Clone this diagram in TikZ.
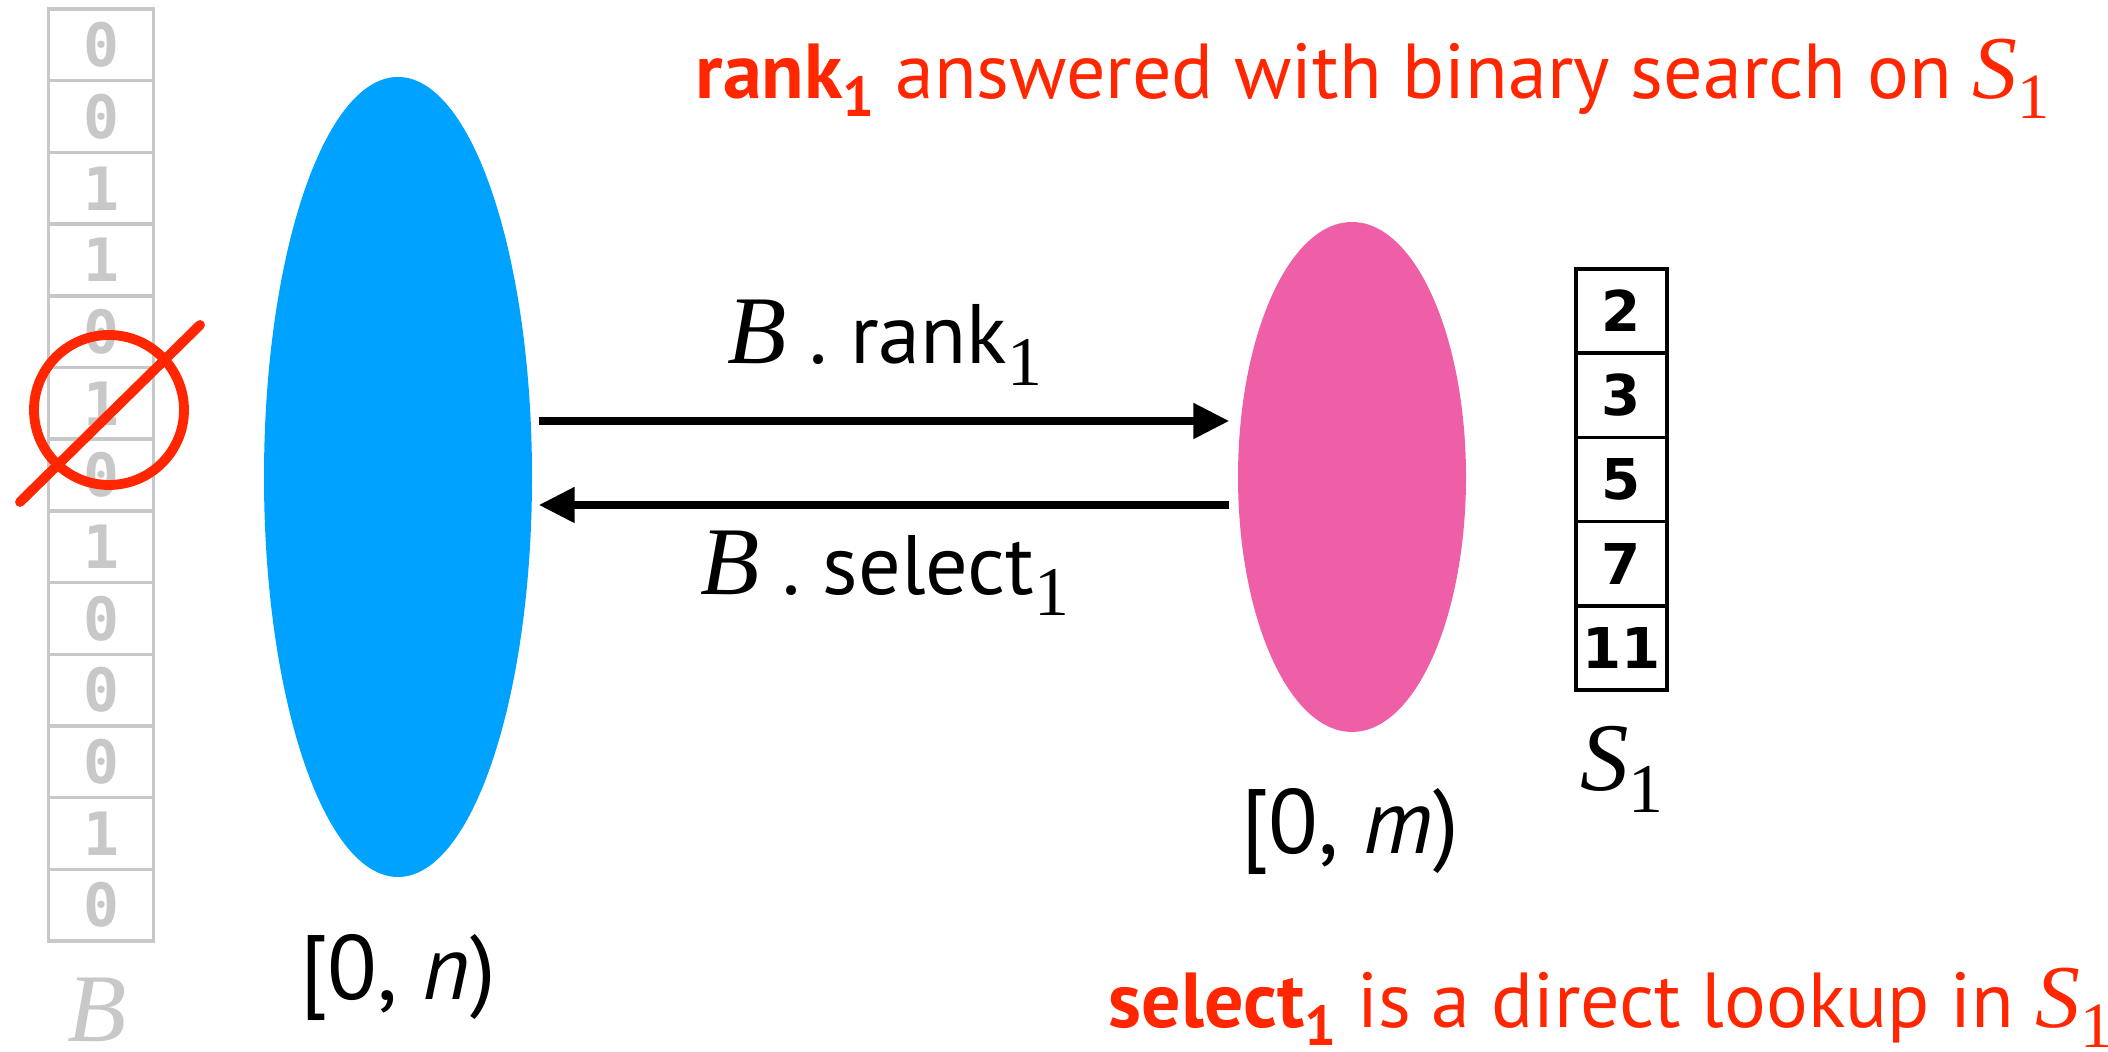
\documentclass[tikz,border=0pt]{standalone}
\usepackage{fontspec}
\setmainfont{PT Sans}
\newfontfamily\seriffont{Liberation Serif}[Scale=1.15]
\newfontfamily\monofont{DejaVu Sans Mono}
\newfontfamily\digitfont{DejaVu Sans}
\usetikzlibrary{shapes.geometric, arrows.meta, positioning, calc}

\definecolor{setblue}{HTML}{00A2FF}
\definecolor{setpink}{HTML}{EE5FA7}
\definecolor{keyred}{HTML}{FF2600}
\definecolor{bitgray}{HTML}{C8C8C8}

\newcommand{\subone}{\raisebox{-0.22em}{\scalebox{0.72}{1}}}
\newcommand{\letterB}{{\seriffont\itshape B}}
\newcommand{\Sone}{{\seriffont\itshape S\/}{\seriffont\subone}}

\begin{document}
\begin{tikzpicture}[
  bitcell/.style={rectangle, draw=bitgray, line width=1pt, minimum width=1.05cm,
    minimum height=0.717cm, inner sep=0pt, text=bitgray,
    font=\monofont\bfseries\fontsize{17}{17}\selectfont},
  setcell/.style={rectangle, draw=black, line width=1pt, minimum width=0.91cm,
    minimum height=0.842cm, inner sep=0pt, font=\digitfont\bfseries\fontsize{16}{16}\selectfont},
  setshape/.style={ellipse, inner sep=0pt},
  arrow/.style={-{Triangle[length=0.36cm, width=0.34cm]}, line width=2.3pt},
  note/.style={text=keyred, inner sep=0pt, font=\fontsize{22.2}{26}\selectfont},
  opname/.style={font=\fontsize{24}{28}\selectfont},
  interval/.style={font=\fontsize{26}{30}\selectfont},
  crossout/.style={draw=keyred, line width=2.8pt, line cap=round}
]
\useasboundingbox (0,0) rectangle (21.08,10.52);

% bit vector B
\foreach \v [count=\i] in {0,0,1,1,0,1,0,1,0,0,0,1,0}
  \node[bitcell] (b\i) at (1.01, {10.0715-(\i-1)*0.717}) {\v};
\node[anchor=base, inner sep=0pt, text=bitgray, font=\fontsize{24}{28}\selectfont] (bname) at (0.97,0.10) {\letterB};

% crossed out bit
\node[crossout, circle, minimum size=1.5cm] (cross) at (1.09,6.42) {};
\draw[crossout] ($(cross)+(-0.89,-0.92)$) -- ($(cross)+(0.91,0.85)$);

% the two sets
\node[setshape, fill=setblue, minimum width=2.68cm, minimum height=8cm] (bigset) at (3.98,5.75) {};
\node[setshape, fill=setpink, minimum width=2.28cm, minimum height=5.10cm] (smallset) at (13.52,5.75) {};
\node[interval, anchor=base] (nint) at (3.98,0.52) {[0, \textit{n})};
\node[interval, anchor=base] (mint) at (13.50,1.98) {[0, \textit{m})};

% S_1
\foreach \v [count=\i] in {2,3,5,7,11}
  \node[setcell] (s\i) at (16.215, {7.409-(\i-1)*0.842}) {\v};
\node[anchor=base, font=\fontsize{24}{28}\selectfont] (sname) at (16.22,2.61) {\Sone};

% maps
\draw[arrow, shorten <=0.06cm, shorten >=0.08cm] ([yshift=0.56cm]bigset.east)
  -- node[opname, above=0.2cm] (rankop) {\letterB{} . rank{\seriffont\subone}} ([yshift=0.56cm]smallset.west);
\draw[arrow, shorten <=0.08cm, shorten >=0.06cm] ([yshift=-0.28cm]smallset.west)
  -- node[opname, below=0.1cm] (selop) {\letterB{} . select{\seriffont\subone}} ([yshift=-0.28cm]bigset.east);

% notes
\node[note, anchor=base west] (ranknote) at (6.95,9.53) {\textbf{rank\subone} answered with binary search on \Sone};
\node[note, anchor=base west] (selnote) at (11.08,0.24) {\textbf{select\subone} is a direct lookup in \Sone};

\end{tikzpicture}
\end{document}
